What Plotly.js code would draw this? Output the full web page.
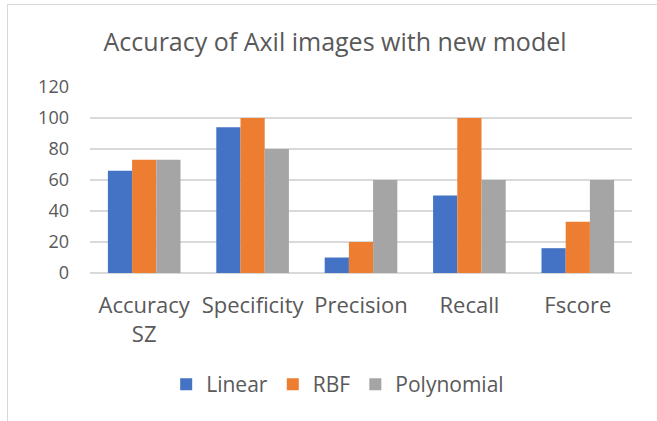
<!DOCTYPE html>
<html>
<head>
<meta charset="utf-8">
<script src="https://cdn.plot.ly/plotly-3.0.1.min.js"></script>
<style>
  html, body { margin: 0; padding: 0; background: #ffffff; }
  #wrap { position: relative; width: 657px; height: 421px; }
  #chart { width: 657px; height: 421px; }
  #frame { position: absolute; left: 7px; top: 4px; width: 660px; height: 430px;
           border-left: 1.5px solid #d9d9d9; border-top: 1.5px solid #d9d9d9; pointer-events: none; }
</style>
</head>
<body>
<div id="wrap">
  <div id="chart"></div>
  <div id="frame"></div>
</div>
<script>
const categories = ["Accuracy<br>SZ", "Specificity", "Precision", "Recall", "Fscore"];
const linearValues = [66, 94, 10, 50, 16];
const rbfValues = [73, 100, 20, 100, 33];
const polynomialValues = [73, 80, 60, 60, 60];
const seriesNames = ["Linear", "RBF", "Polynomial"];
const yTicks = [0, 20, 40, 60, 80, 100, 120];

const colors = ["#4472C4", "#ED7D31", "#A5A5A5"];
const seriesValues = [linearValues, rbfValues, polynomialValues];

const traces = seriesValues.map((vals, i) => ({
  type: "bar",
  name: seriesNames[i],
  x: categories,
  y: vals,
  marker: { color: colors[i], line: { width: 0 } },
  hoverinfo: "x+y+name"
}));

const font = "'Open Sans', 'Liberation Sans', sans-serif";

const layout = {
  width: 657,
  height: 421,
  paper_bgcolor: "rgba(0,0,0,0)",
  plot_bgcolor: "#ffffff",
  margin: { l: 90, r: 25, t: 87, b: 148 },
  barmode: "group",
  bargap: 0.33,
  bargroupgap: 0,
  title: {
    text: "Accuracy of Axil images with new model",
    font: { family: font, size: 25, color: "#595959" },
    x: 0.51, xanchor: "center",
    y: 0.9, yanchor: "middle"
  },
  xaxis: {
    type: "category",
    tickfont: { family: font, size: 22, color: "#595959" },
    showgrid: false,
    showline: false,
    ticks: "",
    zeroline: false,
    ticklabelstandoff: 17
  },
  yaxis: {
    range: [0, 120],
    tickvals: yTicks,
    ticktext: yTicks.map(String),
    tickfont: { family: font, size: 18, color: "#595959" },
    showgrid: true,
    gridcolor: "#d9d9d9",
    gridwidth: 1.2,
    zeroline: true,
    zerolinecolor: "#d9d9d9",
    zerolinewidth: 1.2,
    showline: false,
    ticks: "",
    ticklabelstandoff: 20
  },
  legend: {
    orientation: "h",
    x: 0.457, xanchor: "center",
    y: -0.6, yanchor: "middle",
    font: { family: font, size: 21, color: "#595959" },
    itemwidth: 30,
    traceorder: "normal"
  },
  showlegend: true
};

Plotly.newPlot("chart", traces, layout, { displayModeBar: false, staticPlot: true });
</script>
</body>
</html>
